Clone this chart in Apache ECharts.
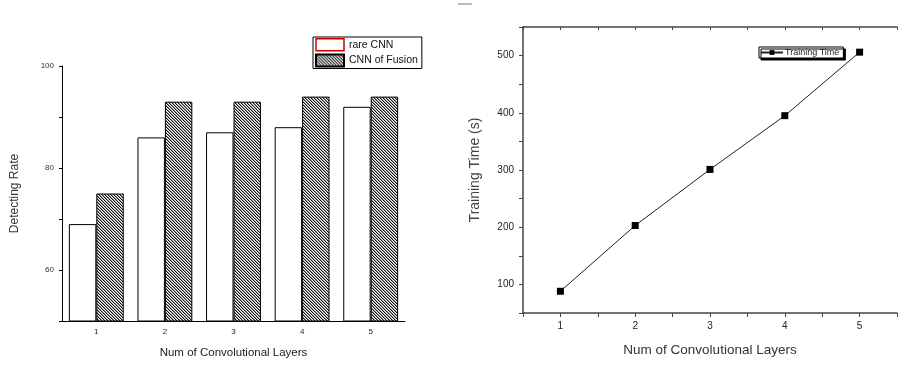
<!DOCTYPE html>
<html>
<head>
<meta charset="utf-8">
<script src="https://cdn.jsdelivr.net/npm/echarts@6/dist/echarts.min.js"></script>
<style>
  html, body { margin: 0; padding: 0; background: #fff; }
  #chart { width: 900px; height: 365px; }
</style>
</head>
<body>
<div id="chart"></div>
<script>
// left panel: detecting rate per number of conv layers
const layers = ['1', '2', '3', '4', '5'];
const rareCnn = [69, 86, 87, 88, 92];
const fusionCnn = [75, 93, 93, 94, 94];
const rateTicks = [60, 80, 100];

// right panel: training time
const trainLayers = [1, 2, 3, 4, 5];
const trainingTime = [88, 203, 301, 395, 506];
const timeTicks = [100, 200, 300, 400, 500];

// hatched fill, lines running down to the right
function hatch() {
  const c = document.createElement('canvas');
  c.width = 3;
  c.height = 3;
  const ctx = c.getContext('2d');
  ctx.fillStyle = '#fff';
  ctx.fillRect(0, 0, 3, 3);
  for (let i = 0; i < 3; i++) {
    ctx.fillStyle = '#111';
    ctx.fillRect(i, i, 1, 1);
    ctx.fillStyle = '#999';
    ctx.fillRect((i + 1) % 3, i, 1, 1);
  }
  return c;
}
const hatchFill = { image: hatch(), repeat: 'repeat' };

const font = 'Liberation Sans, Arial, sans-serif';
const myChart = echarts.init(document.getElementById('chart'));

const options = {
  animation: false,
  backgroundColor: '#fff',
  textStyle: { fontFamily: font },
  graphic: [
    { type: 'rect', shape: { x: 458, y: 3, width: 14, height: 2 }, style: { fill: '#bbb' } },
  ],
  legend: [
    {
      left: 313,
      top: 37,
      orient: 'vertical',
      padding: [1, 4, 1, 2],
      itemGap: 2,
      itemWidth: 28,
      itemHeight: 12,
      borderColor: '#000',
      borderWidth: 1,
      backgroundColor: '#fff',
      textStyle: { fontSize: 10.5, color: '#111', fontFamily: font },
      data: [
        { name: 'rare CNN', icon: 'rect', itemStyle: { borderColor: '#c00', borderWidth: 1.5 } },
        { name: 'CNN of Fusion', icon: 'rect' },
      ],
    },
    {
      left: 759,
      top: 47,
      padding: [1, 4, 1, 1],
      itemWidth: 22,
      itemHeight: 6,
      borderColor: '#000',
      borderWidth: 1,
      backgroundColor: '#fff',
      shadowColor: '#000',
      shadowBlur: 0,
      shadowOffsetX: 2,
      shadowOffsetY: 2,
      textStyle: { fontSize: 9, color: '#222', fontFamily: font, padding: [0, 0, 0, -3] },
      data: ['Training Time'],
    },
  ],
  grid: [
    { left: 62, right: 495, top: 66, bottom: 44 },
    { left: 523, right: -10, top: 27, bottom: 52 },
  ],
  xAxis: [
    {
      gridIndex: 0,
      type: 'category',
      data: layers,
      boundaryGap: true,
      axisLine: { lineStyle: { color: '#000', width: 1 } },
      axisTick: { length: 3, lineStyle: { color: '#000' } },
      axisLabel: { fontSize: 8, color: '#223', margin: 7 },
      name: 'Num of Convolutional Layers',
      nameLocation: 'middle',
      nameGap: 26,
      nameTextStyle: { fontSize: 11.5, color: '#222' },
    },
    {
      gridIndex: 1,
      type: 'value',
      min: 0.5,
      max: 5.5,
      interval: 0.5,
      splitLine: { show: false },
      axisLine: { onZero: false, lineStyle: { color: '#444', width: 1.5 } },
      axisTick: { length: 4, lineStyle: { color: '#444' } },
      axisLabel: {
        fontSize: 10,
        color: '#223',
        margin: 8,
        formatter: v => (trainLayers.includes(v) ? String(v) : ''),
      },
      name: 'Num of Convolutional Layers',
      nameLocation: 'middle',
      nameGap: 30,
      nameTextStyle: { fontSize: 13.5, color: '#333' },
    },
    {
      gridIndex: 1,
      type: 'value',
      position: 'top',
      min: 0.5,
      max: 5.5,
      interval: 0.5,
      splitLine: { show: false },
      axisLine: { onZero: false, lineStyle: { color: '#444', width: 1.5 } },
      axisTick: { inside: true, length: 3, lineStyle: { color: '#444' } },
      axisLabel: { show: false },
    },
  ],
  yAxis: [
    {
      gridIndex: 0,
      type: 'value',
      min: 50,
      max: 100,
      interval: 10,
      splitLine: { show: false },
      axisLine: { show: true, lineStyle: { color: '#000', width: 1 } },
      axisTick: { show: true, length: 3, lineStyle: { color: '#000' } },
      axisLabel: {
        fontSize: 8,
        color: '#333',
        margin: 8,
        formatter: v => (rateTicks.includes(v) ? String(v) : ''),
      },
      name: 'Detecting Rate',
      nameLocation: 'middle',
      nameGap: 41,
      nameTextStyle: { fontSize: 12, color: '#333' },
    },
    {
      gridIndex: 1,
      type: 'value',
      min: 50,
      max: 550,
      interval: 50,
      splitLine: { show: false },
      axisLine: { show: true, lineStyle: { color: '#444', width: 1.5 } },
      axisTick: { show: true, length: 4, lineStyle: { color: '#444' } },
      axisLabel: {
        fontSize: 10,
        color: '#223',
        margin: 9,
        formatter: v => (timeTicks.includes(v) ? String(v) : ''),
      },
      name: 'Training Time (s)',
      nameLocation: 'middle',
      nameGap: 41,
      nameTextStyle: { fontSize: 14, color: '#444' },
    },
  ],
  series: [
    {
      name: 'rare CNN',
      type: 'bar',
      xAxisIndex: 0,
      yAxisIndex: 0,
      barGap: 0,
      barCategoryGap: '20%',
      data: rareCnn,
      itemStyle: { color: '#fff', borderColor: '#000', borderWidth: 1 },
    },
    {
      name: 'CNN of Fusion',
      type: 'bar',
      xAxisIndex: 0,
      yAxisIndex: 0,
      barGap: 0,
      barCategoryGap: '20%',
      data: fusionCnn,
      itemStyle: { color: hatchFill, borderColor: '#000', borderWidth: 1 },
    },
    {
      name: 'Training Time',
      type: 'line',
      xAxisIndex: 1,
      yAxisIndex: 1,
      data: trainLayers.map((x, i) => [x, trainingTime[i]]),
      symbol: 'rect',
      symbolSize: 7,
      itemStyle: { color: '#000' },
      lineStyle: { color: '#222', width: 1 },
    },
  ],
};

myChart.setOption(options);
</script>
</body>
</html>
